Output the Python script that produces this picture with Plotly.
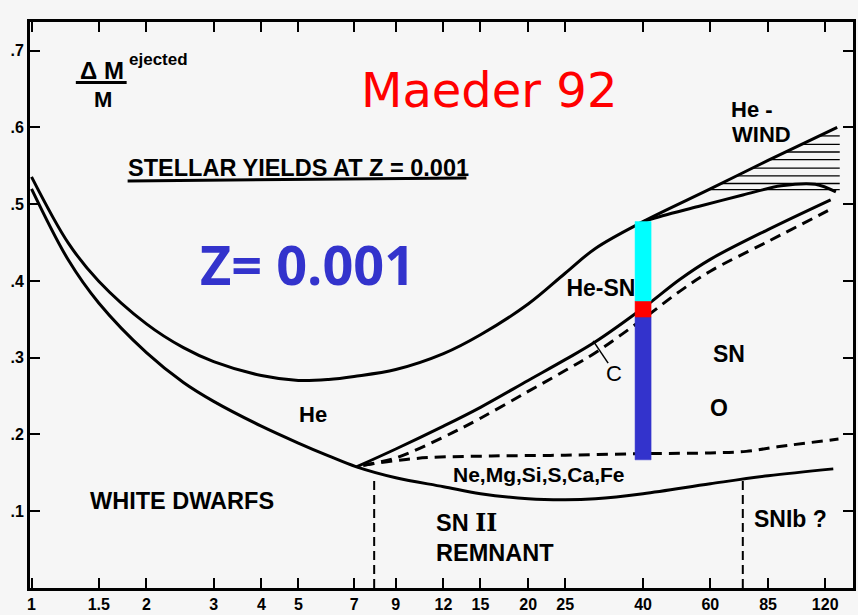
import numpy as np
import plotly.graph_objects as go

# ---------------------------------------------------------------
# Stellar yields at Z = 0.001 (Maeder 1992): ejected mass fraction
# versus initial stellar mass (solar masses, log scale)
# ---------------------------------------------------------------

# Upper boundary of the He layer, continuing as the top of the He-wind zone
m_upper = [1.0, 1.25, 1.5, 2, 2.5, 3, 4, 5, 6, 7, 9, 12, 15, 20, 25, 30,
           40, 60, 85, 129]
v_upper = [0.5356, 0.4489, 0.3997, 0.3441, 0.3131, 0.2950, 0.2768, 0.2704,
           0.2717, 0.2756, 0.2846, 0.3053, 0.3299, 0.3700, 0.4101, 0.4424,
           0.4774, 0.520, 0.557, 0.600]

# Lower boundary of the He-wind zone (top of He-SN)
m_wind = [40, 45, 55.8, 73, 92, 113, 128]
v_wind = [0.4774, 0.485, 0.497, 0.512, 0.524, 0.526, 0.516]

# White dwarf / remnant boundary
m_lower = [1.0, 1.25, 1.5, 2, 2.5, 3, 4, 5, 6, 7.1, 9, 12, 15, 20, 25, 30,
           40, 60, 85, 126]
v_lower = [0.5201, 0.4269, 0.3713, 0.3066, 0.2678, 0.2432, 0.2109, 0.1889,
           0.1721, 0.1578, 0.1436, 0.1320, 0.1229, 0.1164, 0.1151, 0.1164,
           0.1229, 0.1358, 0.1462, 0.1552]

# Top of the C layer (solid) and C/O boundary (dashed)
m_c_top = [7.1, 9, 12, 15, 20, 25, 30, 40, 50, 60, 85, 124]
v_c_top = [0.1578, 0.1811, 0.2109, 0.2354, 0.2704, 0.2975, 0.3208, 0.3648,
           0.4023, 0.4282, 0.4670, 0.5058]

m_c_bot = [7.4, 9, 12, 15, 20, 25, 30, 40, 50, 60, 85, 122]
v_c_bot = [0.160, 0.1695, 0.1966, 0.2212, 0.2561, 0.2833, 0.3066, 0.3506,
           0.3868, 0.4127, 0.4515, 0.4916]

# O / (Ne, Mg, Si, S, Ca, Fe) boundary (dashed)
m_o_bot = [7.4, 9, 11, 16, 25, 40, 60, 74.5, 90, 130]
v_o_bot = [0.160, 0.166, 0.170, 0.172, 0.173, 0.175, 0.176, 0.178, 0.184, 0.194]

# Mass limits of the remnant regimes (vertical dashed lines)
m_limits = [7.9, 73.0]
v_limit_top = 0.141

# Hatching levels inside the He-wind zone
hatch_levels = [0.589, 0.578, 0.568, 0.558, 0.547, 0.537, 0.527, 0.519]
hatch_end = 131

# Coloured bar for the 40 Msun star: He (cyan), C (red), O and heavier (blue)
bar_mass = 40
bar_edges = [0.167, 0.353, 0.374, 0.4774]
bar_colors = ["#3333cc", "#ff0000", "#00ffff"]

# Axis ticks
x_ticks = [1, 1.5, 2, 3, 4, 5, 7, 9, 12, 15, 20, 25, 40, 60, 85, 120]
y_ticks = [0.1, 0.2, 0.3, 0.4, 0.5, 0.6, 0.7]
y_ticktext = [".1", ".2", ".3", ".4", ".5", ".6", ".7"]

# ---------------------------------------------------------------
W, H = 858, 615
ML, MR, MT, MB = 30, 2, 22, 23
SANS = "Liberation Sans"
INK = "black"
BG = "#f6f6f6"

fig = go.Figure()


def curve(ms, vs, dash="solid", width=3):
    fig.add_trace(go.Scatter(x=ms, y=vs, mode="lines",
                             line=dict(color=INK, width=width, dash=dash,
                                       shape="spline", smoothing=1.0),
                             hoverinfo="skip"))


curve(m_upper, v_upper)
curve(m_wind, v_wind)
curve(m_lower, v_lower)
curve(m_c_top, v_c_top)
curve(m_c_bot, v_c_bot, dash="11px,7px")
curve(m_o_bot, v_o_bot, dash="11px,7px")

for m in m_limits:
    fig.add_trace(go.Scatter(x=[m, m], y=[0, v_limit_top], mode="lines",
                             line=dict(color=INK, width=2, dash="9px,5px"),
                             hoverinfo="skip"))

# horizontal hatching between the two He-wind boundaries
grid = np.logspace(np.log10(40), np.log10(hatch_end), 600)
up = np.interp(np.log10(grid), np.log10(m_upper), v_upper)
lo = np.interp(np.log10(grid), np.log10(m_wind), v_wind)
for lev in hatch_levels:
    ok = (up >= lev) & (lo <= lev)
    if ok.any():
        xs = grid[ok]
        fig.add_trace(go.Scatter(x=[xs[0], hatch_end], y=[lev, lev], mode="lines",
                                 line=dict(color=INK, width=1.3), hoverinfo="skip"))

# leader line of the "C" label
fig.add_trace(go.Scatter(x=[29.6, 32.4], y=[0.322, 0.293], mode="lines",
                         line=dict(color=INK, width=1.5), hoverinfo="skip"))

# region label partly hidden behind the coloured bar
fig.add_trace(go.Scatter(x=[25.2], y=[0.388], mode="text", text=["He-SN"],
                         textposition="middle right",
                         textfont=dict(family=SANS, size=23, color=INK, weight=700),
                         hoverinfo="skip"))

half = 10 ** 0.021
for y0, y1, col in zip(bar_edges[:-1], bar_edges[1:], bar_colors):
    x0, x1 = bar_mass / half, bar_mass * half
    fig.add_trace(go.Scatter(x=[x0, x1, x1, x0, x0], y=[y0, y0, y1, y1, y0],
                             mode="lines", fill="toself", fillcolor=col,
                             line=dict(color=col, width=0.5), hoverinfo="skip"))


# ---------------------------------------------------------------
def pp(x, y):
    return (x - ML) / (W - ML - MR), (H - MB - y) / (H - MT - MB)


def label(text, x, y, size, color=INK, family=SANS, weight=700, xanchor="center"):
    px, py = pp(x, y)
    fig.add_annotation(x=px, y=py, xref="paper", yref="paper", text=text,
                       showarrow=False, xanchor=xanchor, yanchor="middle",
                       font=dict(family=family, size=size, color=color, weight=weight))


def rule(x0, y0, x1, y1, width=3):
    a, b = pp(x0, y0)
    c, d = pp(x1, y1)
    fig.add_shape(type="line", xref="paper", yref="paper", x0=a, y0=b, x1=c, y1=d,
                  line=dict(color=INK, width=width))


label("\u0394 M", 102, 71, 24)
rule(76, 83, 127, 83)
label("M", 103, 100, 22)
label("ejected", 127, 60, 17, xanchor="left")

label("Maeder 92", 491, 90, 48, color="#ff0000", family="DejaVu Sans", weight=400)
label("Z= 0.001", 309, 266, 54, color="#3333cc", family="Open Sans", weight=700)

label("STELLAR YIELDS AT Z = 0.001", 126, 169, 23.5, xanchor="left")
rule(128, 182, 468, 179)

label("He -", 732, 110, 22, xanchor="left")
label("WIND", 733, 135, 22, xanchor="left")
label("C", 616, 376, 22, weight=400)
label("SN", 732, 356, 23)
label("O", 722, 411, 23)
label("He", 314, 417, 22)
label("Ne,Mg,Si,S,Ca,Fe", 541, 478, 21)
label("WHITE DWARFS", 183, 504, 23.5)
label("SN <span style='font-family:DejaVu Serif'>II</span>", 435, 527, 23.5, xanchor="left")
label("REMNANT", 435, 557, 23.5, xanchor="left")
label("SNIb ?", 793, 523, 23)

axis_common = dict(showline=True, linecolor=INK, linewidth=3, mirror="allticks",
                   ticks="inside", ticklen=10, tickwidth=2, tickcolor=INK,
                   showgrid=False, zeroline=False,
                   tickfont=dict(family=SANS, size=16, color=INK, weight=700))

fig.update_layout(
    width=W, height=H,
    margin=dict(l=ML, r=MR, t=MT, b=MB, pad=0),
    paper_bgcolor=BG, plot_bgcolor=BG,
    showlegend=False,
    xaxis=dict(type="log", range=[-0.004, 2.152], tickvals=x_ticks,
               ticktext=[str(v) for v in x_ticks], **axis_common),
    yaxis=dict(range=[0, 0.7374], tickvals=y_ticks, ticktext=y_ticktext, **axis_common),
)

fig.write_html("out.html")
